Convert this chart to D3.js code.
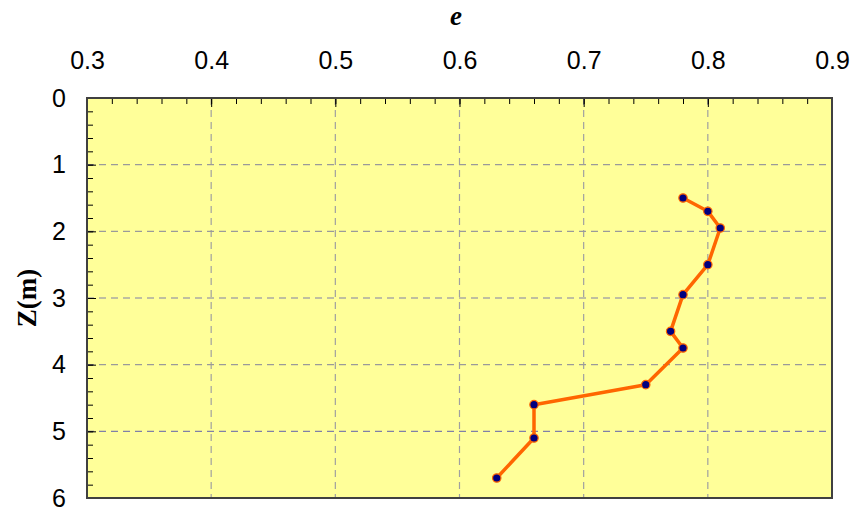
<!DOCTYPE html>
<html><head><meta charset="utf-8">
<script src="https://cdn.jsdelivr.net/npm/d3@7"></script>
<style>body{margin:0;background:#fff}</style>
</head><body>
<svg id="c" width="854" height="511"></svg>
<script>
const eValues = [0.78, 0.80, 0.81, 0.80, 0.78, 0.77, 0.78, 0.75, 0.66, 0.66, 0.63];
const depths  = [1.5, 1.7, 1.95, 2.5, 2.95, 3.5, 3.75, 4.3, 4.6, 5.1, 5.7];
const xTicks = [0.3, 0.4, 0.5, 0.6, 0.7, 0.8, 0.9];
const yTicks = [0, 1, 2, 3, 4, 5, 6];
const xTitle = "e";
const yTitle = "Z(m)";

const svg = d3.select("#c");
const L = 87, R = 832, T = 98, B = 498;
const x = d3.scaleLinear().domain([0.3, 0.9]).range([L, R]);
const y = d3.scaleLinear().domain([0, 6]).range([T, B]);

svg.append("rect").attr("x", L).attr("y", T).attr("width", R - L).attr("height", B - T).attr("fill", "#ffff99");

// grid
svg.append("g").selectAll("line").data(xTicks.slice(1, -1)).join("line")
  .attr("x1", d => x(d)).attr("x2", d => x(d)).attr("y1", T).attr("y2", B)
  .attr("stroke", "#a0a0a0").attr("stroke-width", 1.2).attr("stroke-dasharray", "7,5");
svg.append("g").selectAll("line").data(yTicks.slice(1, -1)).join("line")
  .attr("x1", L).attr("x2", R).attr("y1", d => y(d)).attr("y2", d => y(d))
  .attr("stroke", d => (d % 2 === 1 && d !== 1) ? "#8080a8" : "#9a9a9a").attr("stroke-width", 1.2).attr("stroke-dasharray", "7,5");

// axes (ticks inward)
const xAxis = d3.axisTop(x).tickValues(d3.range(0.3, 0.9001, 0.02)).tickSize(-6).tickFormat("");
svg.append("g").attr("transform", `translate(0,${T})`).call(xAxis)
  .call(g => g.select(".domain").remove())
  .call(g => g.selectAll("line").attr("stroke", "#000"));
svg.append("g").attr("transform", `translate(0,${T})`)
  .call(d3.axisTop(x).tickValues(xTicks).tickSize(-9).tickFormat(d3.format(".1f")))
  .call(g => g.select(".domain").remove())
  .call(g => g.selectAll("line").attr("stroke", "#000"))
  .call(g => g.selectAll("text").attr("font-family", "Liberation Sans, Arial, sans-serif").attr("font-size", 25).attr("fill", "#000").attr("y", -29));

svg.append("g").attr("transform", `translate(${L},0)`)
  .call(d3.axisLeft(y).tickValues(d3.range(0, 6.001, 0.2)).tickSize(-6).tickFormat(""))
  .call(g => g.select(".domain").remove())
  .call(g => g.selectAll("line").attr("stroke", "#000"));
svg.append("g").attr("transform", `translate(${L},0)`)
  .call(d3.axisLeft(y).tickValues(yTicks).tickSize(-9).tickFormat(d3.format("d")))
  .call(g => g.select(".domain").remove())
  .call(g => g.selectAll("line").attr("stroke", "#000"))
  .call(g => g.selectAll("text").attr("font-family", "Liberation Sans, Arial, sans-serif").attr("font-size", 25).attr("fill", "#000").attr("x", -21));

// frame
svg.append("rect").attr("x", L).attr("y", T).attr("width", R - L).attr("height", B - T)
  .attr("fill", "none").attr("stroke", "#404040").attr("stroke-width", 2);

// titles
svg.append("text").attr("x", 456).attr("y", 25).attr("text-anchor", "middle")
  .attr("font-family", "Liberation Serif, Times New Roman, serif").attr("font-size", 27)
  .attr("font-weight", "bold").attr("font-style", "italic").text(xTitle);
svg.append("text").attr("transform", "translate(36,298) rotate(-90)").attr("text-anchor", "middle")
  .attr("font-family", "Liberation Serif, Times New Roman, serif").attr("font-size", 27)
  .attr("font-weight", "bold").text(yTitle);

// data
const pts = eValues.map((v, i) => [v, depths[i]]);
svg.append("path").datum(pts)
  .attr("d", d3.line().x(d => x(d[0])).y(d => y(d[1])))
  .attr("fill", "none").attr("stroke", "#ff6600").attr("stroke-width", 3.5).attr("stroke-linejoin", "round");
svg.append("g").selectAll("circle").data(pts).join("circle")
  .attr("cx", d => x(d[0])).attr("cy", d => y(d[1])).attr("r", 4.2)
  .attr("fill", "#000080").attr("stroke", "#ff6600").attr("stroke-width", 1.2);
</script>
</body></html>
